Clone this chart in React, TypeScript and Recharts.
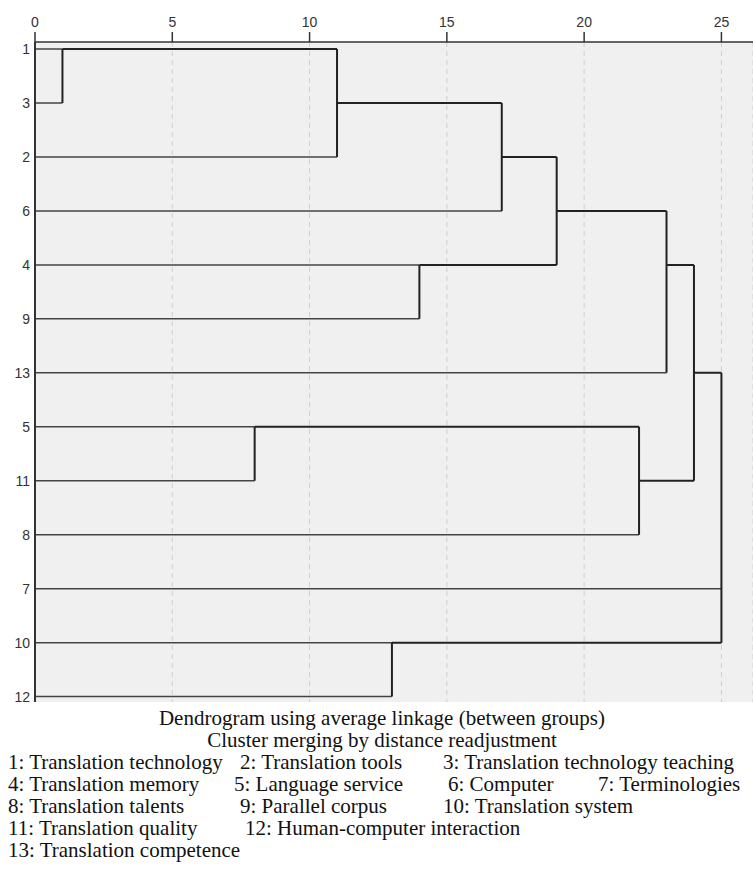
import { LineChart, Line, XAxis, YAxis, CartesianGrid } from "recharts";

// leaves top to bottom, as the dendrogram lists them
const leafLabels = ["1", "3", "2", "6", "4", "9", "13", "5", "11", "8", "7", "10", "12"];

// agglomeration steps (rescaled distance 0-25); cN = cluster made at step N
const mergeA = ["1", "c1", "c2", "4", "c3", "c5", "5", "c7", "c6", "10", "c9", "c11"];
const mergeB = ["3", "2", "6", "9", "c4", "13", "11", "8", "c8", "12", "7", "c10"];
const mergeDist = [1, 11, 17, 14, 19, 23, 8, 22, 24, 13, 25, 25];

const xTicks = [0, 5, 10, 15, 20, 25];

const captionLines = [
  "Dendrogram using average linkage (between groups)",
  "Cluster merging by distance readjustment",
];

const legendRows = [
  [["1: Translation technology", 8], ["2: Translation tools", 240], ["3: Translation technology teaching", 443]],
  [["4: Translation memory", 8], ["5: Language service", 234], ["6: Computer", 448], ["7: Terminologies", 598]],
  [["8: Translation talents", 8], ["9: Parallel corpus", 240], ["10: Translation system", 443]],
  [["11: Translation quality", 8], ["12: Human-computer interaction", 245]],
  [["13: Translation competence", 8]],
] as [string, number][][];

type Pt = { x: number; y: number | null };

function buildPaths() {
  const row: Record<string, number> = {};
  const parentH: Record<string, number> = {};
  leafLabels.forEach((l, i) => {
    row[l] = i;
  });
  mergeA.forEach((a, i) => {
    const b = mergeB[i];
    const id = "c" + (i + 1);
    row[id] = Math.floor((row[a] + row[b]) / 2);
    parentH[a] = mergeDist[i];
    parentH[b] = mergeDist[i];
  });
  const leaves: Pt[] = [];
  const links: Pt[] = [];
  leafLabels.forEach((l) => {
    leaves.push({ x: 0, y: row[l] }, { x: parentH[l], y: row[l] }, { x: 0, y: null });
  });
  mergeA.forEach((a, i) => {
    const b = mergeB[i];
    const id = "c" + (i + 1);
    const h = mergeDist[i];
    links.push({ x: h, y: row[a] }, { x: h, y: row[b] }, { x: h, y: null });
    if (parentH[id] !== undefined) {
      links.push({ x: h, y: row[id] }, { x: parentH[id], y: row[id] }, { x: h, y: null });
    }
  });
  return { leaves, links };
}

const { leaves, links } = buildPaths();

const tickFont = { fontFamily: "Liberation Sans", fontSize: 14, fill: "#333" };
const LINE_H = 22;
const textStyle = {
  fontFamily: "Liberation Serif",
  fontSize: 21,
  lineHeight: LINE_H + "px",
  color: "#111",
  whiteSpace: "nowrap" as const,
};

export default function App() {
  return (
    <div style={{ position: "absolute", left: 0, top: 0, width: 753, height: 879, background: "#fff" }}>
      <LineChart width={753} height={704} margin={{ top: 0, right: 0, bottom: 2, left: 0 }}>
        <CartesianGrid horizontal={false} fill="#f0f0f0" stroke="#cfcfcf" strokeDasharray="5 4" />
        <XAxis
          dataKey="x"
          type="number"
          orientation="top"
          domain={[0, 26.15]}
          ticks={xTicks}
          allowDataOverflow
          height={42}
          tickSize={10}
          tickMargin={5}
          tick={tickFont}
          axisLine={{ stroke: "#333", strokeWidth: 1.5 }}
          tickLine={{ stroke: "#333", strokeWidth: 1.5 }}
        />
        <XAxis
          xAxisId="frame"
          type="number"
          orientation="bottom"
          domain={[0, 26.15]}
          height={0}
          tick={false}
          tickLine={false}
          axisLine={{ stroke: "#333", strokeWidth: 1.5 }}
        />
        <YAxis
          type="number"
          reversed
          domain={[-0.13, 12.1]}
          ticks={leafLabels.map((_, i) => i)}
          interval={0}
          allowDataOverflow
          width={35}
          tickFormatter={(i: number) => leafLabels[i]}
          tick={tickFont}
          tickLine={false}
          tickSize={0}
          tickMargin={5}
          axisLine={{ stroke: "#333", strokeWidth: 2 }}
        />
        <Line data={leaves} dataKey="y" type="linear" stroke="#444" strokeWidth={1.5} dot={false} activeDot={false} connectNulls={false} isAnimationActive={false} />
        <Line data={links} dataKey="y" type="linear" stroke="#222" strokeWidth={2} dot={false} activeDot={false} connectNulls={false} isAnimationActive={false} />
      </LineChart>
      {captionLines.map((t, i) => (
        <div
          key={t}
          style={{ ...textStyle, position: "absolute", left: 0, width: 764, textAlign: "center", top: 707 + i * LINE_H }}
        >
          {t}
        </div>
      ))}
      {legendRows.map((items, r) =>
        items.map(([text, x]) => (
          <div
            key={text}
            style={{ ...textStyle, position: "absolute", left: x, top: 707 + (r + 2) * LINE_H }}
          >
            {text}
          </div>
        ))
      )}
    </div>
  );
}
